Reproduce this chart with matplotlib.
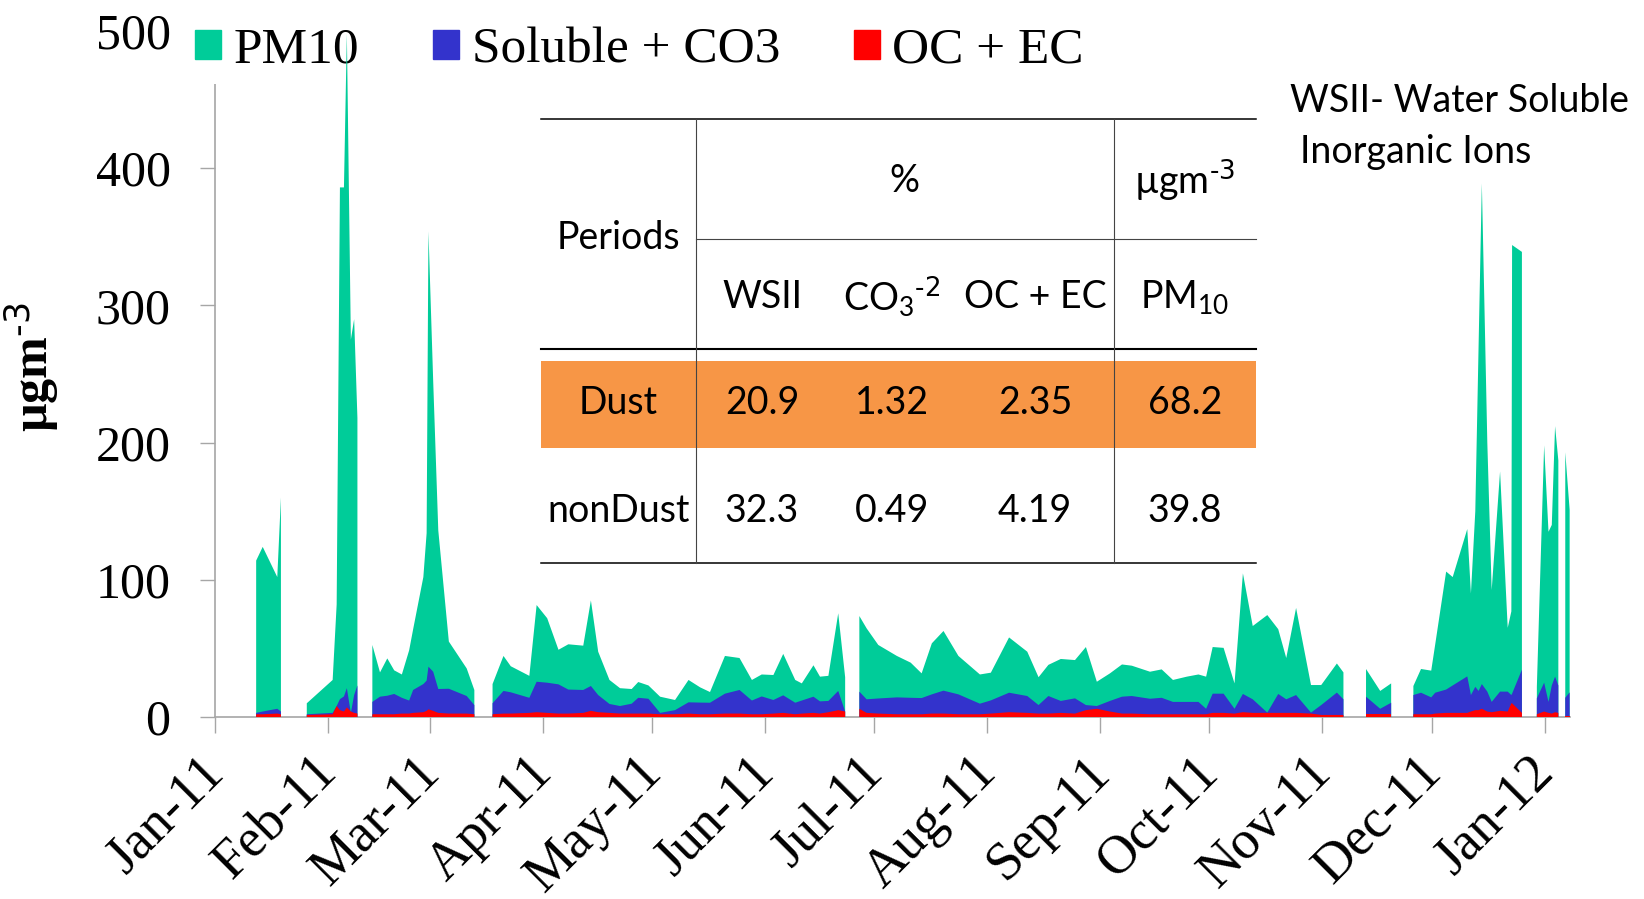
import datetime as dt

import matplotlib
matplotlib.use("Agg")
import matplotlib.dates as mdates
import matplotlib.pyplot as plt
import matplotlib.transforms as mtransforms
import numpy as np
from matplotlib.font_manager import FontProperties
from matplotlib.lines import Line2D
from matplotlib.patches import Patch, Rectangle

nan = np.nan

# sampling days counted from 1 Jan 2011 (nan rows mark gaps in the record)
days = [
    11.3, 13.1, 17.1, 18.1, 21,
    25.2, 32.3, 33.4, 34.3, 35.4, 36.2, 37.3, 38.2, 39.1, 41,
    43.2, 45.3, 47.3, 49.2, 51.3, 53.3, 54.4, 57.2, 58.1, 58.6, 59.9, 61.3,
    64.2, 69.1, 71.2, 73.5,
    76.2, 79.2, 81.2, 86.3, 88.3, 91.2, 94.3, 97.0, 101.1, 103.2, 105.2,
    108.3, 111.2, 114.4, 116.2, 119.0, 122.2, 126.3, 130.0, 133.2, 135.9,
    140.0, 144.0, 147.4, 150.1, 153.3, 156.0, 159.3, 161.1, 164.3, 166.1,
    168.4, 171.1, 173.0, 175,
    176.9, 178.9, 182.1, 187.2, 191.0, 194.0, 196.8, 200.0, 204.1, 210.0,
    213.0, 218.0, 223.0, 226.1, 228.8, 232.2, 236.1, 239.1, 242.1, 245.7,
    249.0, 251.7, 256.7, 259.9, 263.0, 266.8, 270.0, 272.1, 273.9, 276.9,
    279.9, 282.2, 284.9, 288.9, 291.9, 294.1, 296.8, 300.9, 303.7, 308.0,
    309.8, 313,
    316.0, 319.9, 322.9, 326,
    329.0, 331.1, 333.9, 335.0, 338.0, 339.8, 343.8, 344.8, 346.0, 346.9,
    347.8, 349.3, 350.5, 352.8, 354.9, 355.9, 356.1, 358.8, 361,
    362.9, 364.9, 366.1, 367.0, 367.9, 368.8, 369.8,
    370.7, 371.9,
]

pm10 = [
    114, 124, 102, 160, nan,
    10, 27, 82, 386, 386, 498, 275, 290, 218, nan,
    52.5, 32.5, 42.7, 34, 31, 48.6, 64, 102, 134, 354, 245, 136,
    55, 35.4, 19.7, nan,
    24, 44.5, 37, 30, 81.6, 72, 49, 53, 52, 85, 47.6,
    27, 21, 20.4, 25.5, 23, 14.8, 12.4, 27, 21.6, 18.2,
    44.5, 43, 27, 31, 30.6, 46, 27, 24.5, 37.7, 29.4,
    30, 75.6, 29, nan,
    73.6, 64.6, 52.5, 44.5, 39.6, 31.8, 53.7, 62.7, 44.5, 31,
    32.3, 58, 47.6, 29, 38, 42.3, 41.5, 51, 25.7, 31.8,
    38.3, 37.4, 33, 34.7, 27, 29.4, 31, 29.4, 51, 50.4,
    24.5, 104.7, 66.3, 74.3, 64, 43, 79.5, 23.3, 23.3, 39,
    32.5, nan,
    35, 19, 24.5, nan,
    22.6, 35, 33.8, 53, 106, 102, 137, 90, 150, 270,
    389, 200, 92.5, 179, 65, 77, 344, 339, nan,
    22, 198, 135, 140, 212, 187, nan,
    193, 151,
]

soluble = [
    3, 4, 6, 4, nan,
    2, 3, 8, 13, 15, 21, 3, 16, 23, nan,
    11, 14.8, 15.5, 16.8, 14, 12, 19.7, 24, 26.5, 36.7, 33, 20.4,
    20.6, 15.3, 8.7, nan,
    10, 19, 18, 14, 25.7, 25, 23.8, 20, 19.7, 22.6, 16,
    9.5, 8, 9.7, 14, 13.3, 3, 5, 10.7, 10.5, 10.4,
    17, 19.7, 12, 15, 12.4, 15.8, 10.4, 12, 14.8, 11.4,
    11.7, 19, 4, nan,
    18.5, 12.9, 13.5, 14.3, 14, 13.8, 16.5, 19.2, 16.5, 9.7,
    12.1, 17.7, 15.3, 8.7, 15.3, 11.7, 13.6, 8.7, 8, 11.7,
    14.8, 15.3, 13.3, 14, 11, 11, 11, 6, 17, 17,
    6, 16.8, 12.9, 3.2, 16.8, 12.9, 16, 3.2, 8.7, 17.8,
    12.9, nan,
    14.8, 6, 10.4, nan,
    16, 17.7, 14.3, 17.7, 20, 23, 29.6, 16, 22, 19,
    24, 18.5, 11, 18.5, 18.5, 16, 17, 34.5, nan,
    13.6, 25, 11, 23, 29.4, 23, nan,
    14, 18,
]

oc_ec = [
    2, 2, 2.5, 2, nan,
    1.5, 2, 8, 5, 4, 7, 4, 3, 2.5, nan,
    2, 2, 2, 2, 2.5, 2.5, 3, 3.5, 4.5, 5.6, 4.5, 3,
    2.5, 2.5, 2, nan,
    2, 2.5, 2.5, 3, 3.5, 3, 2.5, 2.5, 3, 4.5, 3.5,
    3, 2.5, 2.5, 2.5, 2.5, 2, 2, 2.5, 2, 2,
    2.5, 2.5, 2, 2, 2.5, 3, 2, 2.5, 3, 2.5,
    3.5, 5, 4, nan,
    6, 3, 2.5, 2, 2, 2, 2.5, 2.5, 2, 2,
    2.5, 3.5, 3, 2.5, 2.5, 3, 2.5, 5, 6, 4,
    2.5, 2.5, 2, 2, 2, 2, 2, 2, 3, 3,
    2.5, 3.5, 3, 3, 3, 3, 3, 2.5, 1.5, 1.5,
    1.5, nan,
    2.5, 2.5, 2.5, nan,
    2, 2, 2, 2.5, 3, 3, 3, 4, 5, 5,
    6, 4, 3.5, 4.5, 4, 10, 10, 3, nan,
    2, 4, 3, 2.5, 3.5, 3, nan,
    1, 1,
]

# inset table
table_periods = ["Dust", "nonDust"]
table_wsii = ["20.9", "32.3"]
table_co3 = ["1.32", "0.49"]
table_ocec = ["2.35", "4.19"]
table_pm10 = ["68.2", "39.8"]

GREEN = "#00CC99"
BLUE = "#3333CC"
RED = "#FF0000"
ORANGE = "#F79646"
AXIS_GREY = "#A6A6A6"

W, H = 1644, 899
serif = ["Liberation Serif", "DejaVu Serif"]
sans = ["Lato", "DejaVu Sans"]
plt.rcParams["mathtext.default"] = "regular"


def fx(x):
    return x / W


def fy(y):
    return 1 - y / H


start = mdates.date2num(dt.datetime(2011, 1, 1))
x = start + np.array(days)

fig = plt.figure(figsize=(W / 100, H / 100), dpi=100)
ax = fig.add_axes([fx(215), fy(717), fx(1570) - fx(215), fy(31) - fy(717)])

for series, col in [(pm10, GREEN), (soluble, BLUE), (oc_ec, RED)]:
    ax.fill_between(x, 0, np.array(series, dtype=float), color=col,
                    linewidth=0, zorder=6)

ax.set_xlim(start, start + 372)
ax.set_ylim(0, 500)
ax.set_yticks(range(0, 501, 100))
ax.xaxis.set_major_locator(mdates.MonthLocator())
ax.xaxis.set_major_formatter(mdates.DateFormatter("%b-%y"))

for s in ["top", "right"]:
    ax.spines[s].set_visible(False)
for s in ["left", "bottom"]:
    ax.spines[s].set_color(AXIS_GREY)
    ax.spines[s].set_linewidth(1.2)

ax.tick_params(axis="y", length=11, width=1, color=AXIS_GREY, pad=21,
               labelsize=36)
ax.tick_params(axis="x", length=11.5, width=1, color=AXIS_GREY, pad=10,
               labelsize=39)
for lab in ax.get_yticklabels():
    lab.set_family(serif)
shift = mtransforms.ScaledTranslation(-0.16, 0, fig.dpi_scale_trans)
for lab in ax.get_xticklabels():
    lab.set_family(serif)
    lab.set_rotation(45)
    lab.set_ha("right")
    lab.set_va("top")
    lab.set_rotation_mode("anchor")
    lab.set_transform(lab.get_transform() + shift)

ax.set_ylabel(r"µgm$^{\text{-3}}$", family=serif, fontsize=36,
              fontweight="bold")
ax.yaxis.set_label_coords(-0.114, 0.51)

handles = [Patch(color=GREEN, label="PM10"),
           Patch(color=BLUE, label="Soluble + CO3"),
           Patch(color=RED, label="OC + EC")]
leg = ax.legend(handles=handles, ncol=3, loc="center left",
                bbox_to_anchor=(-0.0221, 0.972),
                prop=FontProperties(family=serif, size=37),
                handlelength=0.5, handleheight=0.5, handletextpad=0.24,
                columnspacing=1.45, borderpad=0.2, borderaxespad=0,
                frameon=True, fancybox=False, facecolor="white",
                edgecolor="none", framealpha=1)
leg.set_zorder(5)


# table frame
def hline(y, x0, x1, lw=1.1, color="black"):
    fig.add_artist(Line2D([fx(x0), fx(x1)], [fy(y), fy(y)],
                          transform=fig.transFigure, color=color, lw=lw))


def vline(xp, y0, y1, lw=0.8, color="#444444"):
    fig.add_artist(Line2D([fx(xp), fx(xp)], [fy(y0), fy(y1)],
                          transform=fig.transFigure, color=color, lw=lw))


fig.add_artist(Rectangle((fx(541), fy(448)), fx(1256) - fx(541),
                         fy(361) - fy(448), transform=fig.transFigure,
                         facecolor=ORANGE, edgecolor="none"))
hline(118.5, 541, 1256)
hline(239, 696, 1256, lw=0.8, color="#444444")
hline(349, 541, 1256, lw=1.5)
hline(563, 541, 1256)
vline(696, 118.5, 563)
vline(1113.5, 118.5, 563)


def cell(xc, yc, s):
    fig.text(fx(xc), fy(yc), s, family=sans, fontsize=27, ha="center",
             va="center")


cell(618.6, 238, "Periods")
cell(904, 181, "%")
cell(1185, 180, r"µgm$^{\text{-3}}$")
cell(762, 297, "WSII")
cell(892, 297, r"CO$_3$$^{\text{-2}}$")
cell(1035, 297, "OC + EC")
cell(1185, 297, "PM$_{10}$")
cols = [(618.6, table_periods), (762, table_wsii), (892, table_co3),
        (1035, table_ocec), (1185, table_pm10)]
for i, yc in enumerate([403.5, 511.5]):
    for xc, vals in cols:
        cell(xc, yc, vals[i])

fig.text(fx(1290), fy(101), "WSII- Water Soluble", family=sans, fontsize=27,
         ha="left", va="center")
fig.text(fx(1300), fy(152), "Inorganic Ions", family=sans, fontsize=27,
         ha="left", va="center")

fig.savefig("out.png", dpi=100)
